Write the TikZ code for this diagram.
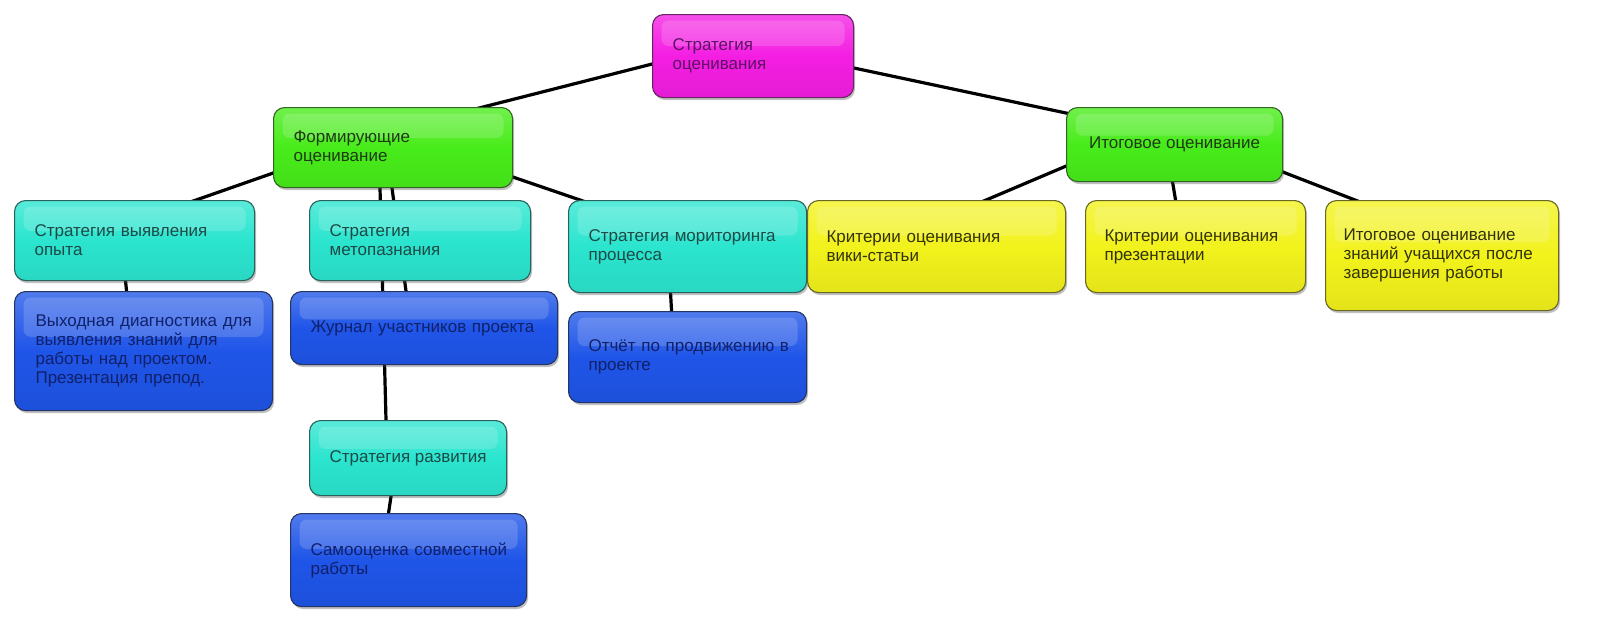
\documentclass[tikz,border=0pt]{standalone}
\usepackage{fontspec}
\setmainfont{Liberation Sans}
\usetikzlibrary{calc,shadows}
\pgfdeclarelayer{background}
\pgfsetlayers{background,main}
\definecolor{cMag}{HTML}{F41EE2}
\definecolor{cGrn}{HTML}{48EC1A}
\definecolor{cCya}{HTML}{2BE5CF}
\definecolor{cYel}{HTML}{F2F21C}
\definecolor{cBlu}{HTML}{1F55E8}
\definecolor{tMag}{HTML}{5E1066}
\definecolor{tGrn}{HTML}{1E3A14}
\definecolor{tCya}{HTML}{1C4A46}
\definecolor{tYel}{HTML}{33330A}
\definecolor{tBlu}{HTML}{10206A}
\tikzset{
  gbox/.style={draw=#1!40!black!80!gray, line width=1.1pt, rounded corners=11pt,
    top color=#1!78!white, bottom color=#1!94!black, middle color=#1,
    drop shadow={shadow xshift=1.5pt, shadow yshift=-2.5pt, opacity=.35, fill=black!70},
    path picture={\fill[white,opacity=.16,rounded corners=7pt]
      ($(path picture bounding box.north west)+(9pt,-6pt)$) rectangle
      ($(path picture bounding box.north east)!0.38!(path picture bounding box.south east)+(-9pt,0pt)$);},
    inner xsep=20pt, inner ysep=0pt, anchor=north west, align=left,
    font=\fontsize{17}{19}\selectfont},
  conn/.style={line width=3.2pt, black, shorten <=-8pt, shorten >=-8pt}
}
\begin{document}
\begin{tikzpicture}[x=1pt,y=-1pt]
\useasboundingbox (0,0) rectangle (1600,640);

\node[gbox=cMag, text=tMag, minimum width=201pt, minimum height=83pt, text width=161pt] (m) at (652,14) {Стратегия\\оценивания};
\node[gbox=cGrn, text=tGrn, minimum width=239pt, minimum height=80pt, text width=199pt] (fl) at (273,107) {Формирующие\\оценивание};
\node[gbox=cGrn, text=tGrn, minimum width=216pt, minimum height=74pt, align=center] (fr) at (1066,107) {Итоговое оценивание};

\node[gbox=cCya, text=tCya, minimum width=240pt, minimum height=80pt, text width=200pt] (c1) at (14,200) {Стратегия выявления\\опыта};
\node[gbox=cCya, text=tCya, minimum width=221pt, minimum height=80pt, text width=181pt] (c2) at (309,200) {Стратегия\\метопазнания};
\node[gbox=cCya, text=tCya, minimum width=238pt, minimum height=92pt, text width=198pt] (c3) at (568,200) {Стратегия~мориторинга\\процесса};

\node[gbox=cYel, text=tYel, minimum width=258pt, minimum height=92pt, text width=220pt, inner xsep=19pt] (y1) at (807,200) {Критерии~оценивания\\вики-статьи};
\node[gbox=cYel, text=tYel, minimum width=220pt, minimum height=92pt, text width=182pt, inner xsep=19pt] (y2) at (1085,200) {Критерии~оценивания\\презентации};
\node[gbox=cYel, text=tYel, minimum width=233pt, minimum height=110pt, text width=197pt, inner xsep=18pt] (y3) at (1325,200) {Итоговое~оценивание\\знаний~учащихся~после\\завершения~работы};

\node[gbox=cBlu, text=tBlu, minimum width=258pt, minimum height=119pt, text width=216pt, inner xsep=21pt] (b1) at (14,291) {Выходная~диагностика~для\\выявления~знаний~для\\работы~над~проектом.\\Презентация~препод.};
\node[gbox=cBlu, text=tBlu, minimum width=267pt, minimum height=73pt, text width=227pt] (b2) at (290,291) {Журнал~участников~проекта};
\node[gbox=cBlu, text=tBlu, minimum width=238pt, minimum height=91pt, text width=198pt] (b3) at (568,311) {Отчёт~по~продвижению~в\\проекте};

\node[gbox=cCya, text=tCya, minimum width=197pt, minimum height=75pt, align=center] (c4) at (309,420) {Стратегия развития};
\node[gbox=cBlu, text=tBlu, minimum width=236pt, minimum height=93pt, text width=196pt] (b4) at (290,513) {Самооценка~совместной\\работы};

\begin{pgfonlayer}{background}
\fill[white] (0,0) rectangle (1600,640);
\draw[conn] ([yshift=-8pt]m.west) -- ([xshift=-30pt]fl.north east);
\draw[conn] ([yshift=-12pt]m.east) -- ([yshift=-6pt]fr.north west);
\draw[conn] ([yshift=15pt]fl.south west) -- ([xshift=-59pt]c1.north east);
\draw[conn] ([xshift=107pt]fl.south west) -- ([xshift=77pt]c4.north west);
\draw[conn] ([xshift=119pt]fl.south west) -- ([xshift=116pt]b2.north west);
\draw[conn] ([yshift=11pt]fl.south east) -- ([xshift=12pt]c3.north west);
\draw[conn] ([xshift=-9pt]c1.south) -- ([xshift=-17pt]b1.north);
\draw[conn] ([xshift=-17pt]c3.south) -- ([xshift=-16pt]b3.north);
\draw[conn] ([xshift=-17pt]c4.south) -- ([xshift=-20pt]b4.north);
\draw[conn] ([yshift=16pt]fr.south west) -- ([xshift=-80pt]y1.north east);
\draw[conn] ([xshift=-2pt]fr.south) -- ([xshift=-20pt]y2.north);
\draw[conn] ([yshift=10pt]fr.south east) -- ([xshift=30pt]y3.north west);
\end{pgfonlayer}
\end{tikzpicture}
\end{document}
